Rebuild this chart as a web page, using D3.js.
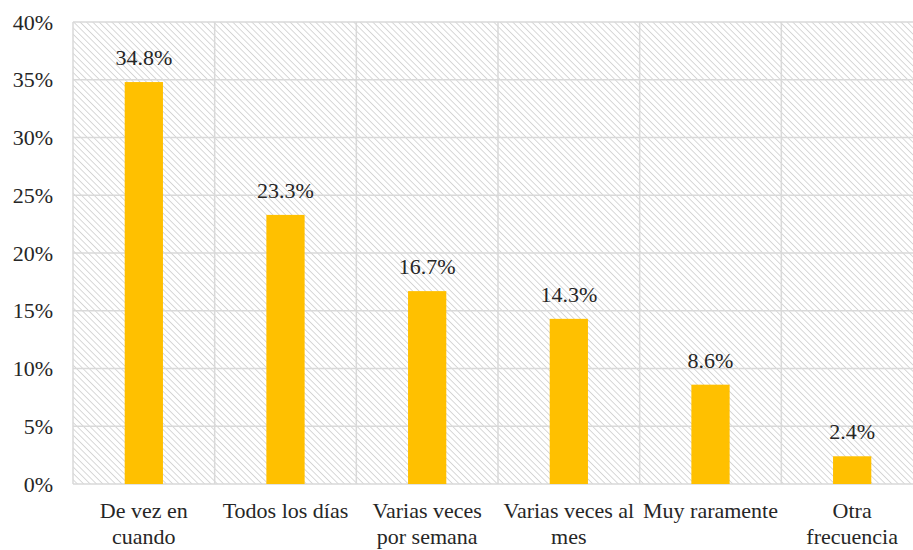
<!DOCTYPE html>
<html>
<head>
<meta charset="utf-8">
<script src="https://cdn.jsdelivr.net/npm/d3@7"></script>
<style>
  body { margin: 0; background: #fff; }
  text { font-family: "Liberation Serif"; }
</style>
</head>
<body>
<svg id="chart"></svg>
<script>
// chart data
let categories = [["De vez en", "cuando"], ["Todos los días"], ["Varias veces", "por semana"],
    ["Varias veces al", "mes"], ["Muy raramente"], ["Otra", "frecuencia"]];
let values = [34.8, 23.3, 16.7, 14.3, 8.6, 2.4];
let yTicks = [0, 5, 10, 15, 20, 25, 30, 35, 40];

let width = 913;
let height = 550;
let margin = {top: 22, left: 73, bottom: 66};
let plotWidth = 850;  // plot runs a bit past the right edge like the original
let plotHeight = height - margin.top - margin.bottom;
let fontSize = 22;
let fontName = "Liberation Serif";

let svg = d3.select("#chart")
    .attr("width", width)
    .attr("height", height);

// hatch pattern for the plot background
let pattern = svg.append("defs").append("pattern")
    .attr("id", "hatch")
    .attr("patternUnits", "userSpaceOnUse")
    .attr("width", 4.5)
    .attr("height", 4.5)
    .attr("patternTransform", "rotate(-45)");
pattern.append("line")
    .attr("x1", 0).attr("y1", 0)
    .attr("x2", 0).attr("y2", 4.5)
    .attr("stroke", "#d2d2d2")
    .attr("stroke-width", 1.7);

let g = svg.append("g")
    .attr("transform", "translate(" + margin.left + "," + margin.top + ")");

let x = d3.scaleBand()
    .domain(d3.range(categories.length))
    .range([0, plotWidth])
    .paddingInner(0.73)
    .paddingOuter(0.365);

let xCat = d3.scaleBand()
    .domain(d3.range(categories.length))
    .range([0, plotWidth]);

let y = d3.scaleLinear()
    .domain([0, 40])
    .range([plotHeight, 0]);

g.append("rect")
    .attr("width", plotWidth)
    .attr("height", plotHeight)
    .attr("fill", "url(#hatch)");

// horizontal grid lines
g.selectAll(".hgrid")
    .data(yTicks)
    .enter().append("line")
    .attr("x1", 0)
    .attr("x2", plotWidth)
    .attr("y1", d => y(d))
    .attr("y2", d => y(d))
    .attr("stroke", "#d9d9d9")
    .attr("stroke-width", 1.5);

// vertical grid lines between categories
g.selectAll(".vgrid")
    .data(d3.range(categories.length + 1))
    .enter().append("line")
    .attr("x1", d => d * xCat.step())
    .attr("x2", d => d * xCat.step())
    .attr("y1", 0)
    .attr("y2", plotHeight)
    .attr("stroke", "#d9d9d9")
    .attr("stroke-width", 1.5);

// bars
g.selectAll(".bar")
    .data(values)
    .enter().append("rect")
    .attr("x", (d, i) => x(i))
    .attr("y", d => y(d))
    .attr("width", x.bandwidth())
    .attr("height", d => plotHeight - y(d))
    .attr("fill", "#ffc000");

// value labels
g.selectAll(".val")
    .data(values)
    .enter().append("text")
    .attr("x", (d, i) => x(i) + x.bandwidth() / 2)
    .attr("y", d => y(d) - 17)
    .attr("text-anchor", "middle")
    .attr("font-size", fontSize)
    .attr("font-family", fontName)
    .style("font-family", fontName)
    .attr("fill", "#262626")
    .text(d => d.toFixed(1) + "%");

// y axis labels
g.selectAll(".ytick")
    .data(yTicks)
    .enter().append("text")
    .attr("x", -20)
    .attr("y", d => y(d))
    .attr("dy", "0.35em")
    .attr("text-anchor", "end")
    .attr("font-size", fontSize)
    .attr("font-family", fontName)
    .style("font-family", fontName)
    .attr("fill", "#262626")
    .text(d => d + "%");

// category labels, split over lines
let catText = g.selectAll(".cat")
    .data(categories)
    .enter().append("text")
    .attr("text-anchor", "middle")
    .attr("font-size", fontSize)
    .attr("font-family", fontName)
    .style("font-family", fontName)
    .attr("fill", "#262626");
catText.selectAll("tspan")
    .data((d, i) => d.map(line => ({line: line, i: i})))
    .enter().append("tspan")
    .attr("x", d => xCat(d.i) + xCat.bandwidth() / 2)
    .attr("y", (d, j) => plotHeight + 34 + j * 26)
    .text(d => d.line);
</script>
</body>
</html>
